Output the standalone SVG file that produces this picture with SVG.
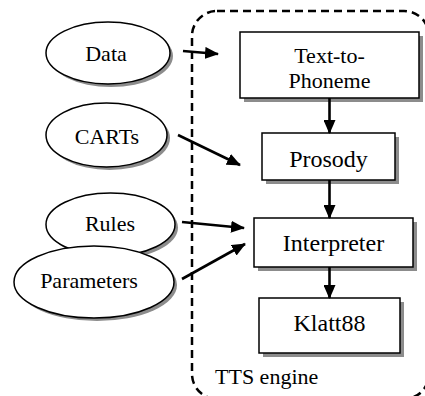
<svg xmlns="http://www.w3.org/2000/svg" width="425" height="396" viewBox="0 0 425 396">
<style>
text{font-family:'Liberation Serif','Times New Roman',serif;fill:#000;text-anchor:middle}
.el{fill:#fff;stroke:#000;stroke-width:1.5}
.sh{fill:#8c8c8c;stroke:none}
.bx{fill:#fff;stroke:#000;stroke-width:1.5}
.ar{stroke:#000;stroke-width:2.6;fill:none}
</style>
<defs>
<marker id="ah" markerUnits="userSpaceOnUse" markerWidth="14" markerHeight="12" refX="13" refY="6" orient="auto">
<path d="M0,0 L14,6 L0,12 Z" fill="#000"/>
</marker>
</defs>
<rect x="192" y="11" width="237" height="388" rx="25" ry="25" fill="none" stroke="#000" stroke-width="2.5" stroke-dasharray="8 5"/>
<g id="data">
<ellipse class="sh" cx="111" cy="56" rx="62" ry="31"/>
<ellipse class="el" cx="108" cy="53" rx="62" ry="31"/>
<text x="106" y="61" font-size="22">Data</text>
</g>
<g id="carts">
<ellipse class="sh" cx="109.5" cy="138" rx="60.5" ry="32"/>
<ellipse class="el" cx="106.5" cy="135" rx="60.5" ry="32"/>
<text x="107" y="144" font-size="22">CARTs</text>
</g>
<g id="rules">
<ellipse class="sh" cx="113.5" cy="227.5" rx="64.5" ry="31.5"/>
<ellipse class="el" cx="110.5" cy="224.5" rx="64.5" ry="31.5"/>
<text x="110" y="231" font-size="22">Rules</text>
</g>
<g id="parameters">
<ellipse class="sh" cx="97" cy="285" rx="80" ry="36"/>
<ellipse class="el" cx="94" cy="282" rx="80" ry="36"/>
<text x="89" y="288" font-size="22">Parameters</text>
</g>
<g id="text-to-phoneme">
<rect class="sh" x="244" y="36" width="179" height="66"/>
<rect class="bx" x="240" y="32" width="179" height="66"/>
<text x="329.5" y="63" font-size="22">Text-to-</text>
<text x="329.5" y="88" font-size="22">Phoneme</text>
</g>
<g id="prosody">
<rect class="sh" x="266" y="137" width="133" height="47"/>
<rect class="bx" x="262" y="133" width="133" height="47"/>
<text x="328.5" y="167" font-size="24">Prosody</text>
</g>
<g id="interpreter">
<rect class="sh" x="258" y="222" width="159" height="49"/>
<rect class="bx" x="254" y="218" width="159" height="49"/>
<text x="333.5" y="251" font-size="24">Interpreter</text>
</g>
<g id="klatt88">
<rect class="sh" x="263" y="302" width="141" height="55"/>
<rect class="bx" x="259" y="298" width="141" height="55"/>
<text x="329.5" y="331" font-size="24">Klatt88</text>
</g>
<text id="tts-label" x="215" y="384" font-size="22" style="text-anchor:start">TTS engine</text>
<g id="connectors">
<line class="ar" x1="183" y1="51" x2="218" y2="54" marker-end="url(#ah)"/>
<line class="ar" x1="178" y1="135" x2="240" y2="165" marker-end="url(#ah)"/>
<line class="ar" x1="182" y1="222" x2="244" y2="228" marker-end="url(#ah)"/>
<line class="ar" x1="182" y1="279" x2="245" y2="244" marker-end="url(#ah)"/>
<line class="ar" x1="329.5" y1="98" x2="329.5" y2="133" marker-end="url(#ah)"/>
<line class="ar" x1="329.5" y1="180" x2="329.5" y2="218" marker-end="url(#ah)"/>
<line class="ar" x1="329.5" y1="267" x2="329.5" y2="298" marker-end="url(#ah)"/>
</g>
</svg>
